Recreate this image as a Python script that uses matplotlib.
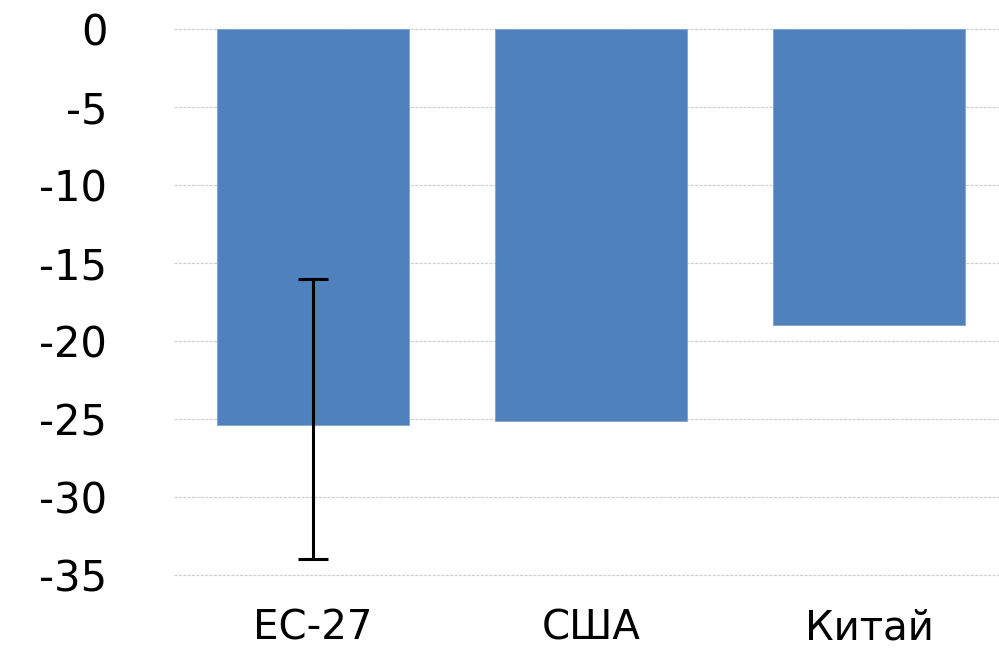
import matplotlib.pyplot as plt
import numpy as np

# Data
categories = ["ЕС-27", "США", "Китай"]
values = [-25.4, -25.1, -18.95]
err_low = [8.6, 0, 0]    # distance below the bar end
err_high = [9.4, 0, 0]   # distance above the bar end
yticks = np.arange(0, -36, -5)

fig = plt.figure(figsize=(9.99, 6.54), dpi=100)
ax = fig.add_axes([174 / 999, 1 - 575 / 654, (1008 - 174) / 999, (575 - 29) / 654])

x = np.arange(len(categories))
ax.bar(x, values, width=0.69, color="#4F81BD", edgecolor="#7FA3D0", linewidth=0.6, zorder=2)
ax.errorbar(x[:1], values[:1], yerr=[err_low[:1], err_high[:1]], fmt="none",
            ecolor="black", elinewidth=2.2, capsize=11, capthick=2.2, zorder=3)

ax.set_xlim(-0.5, 2.5)
ax.set_ylim(-35, 0)
ax.set_yticks(yticks)
ax.set_yticklabels([str(v) if v == 0 else "-" + str(-v) for v in yticks])
ax.set_xticks(x)
ax.set_xticklabels(categories)

ax.yaxis.grid(True, color="#d0d0d0", linestyle=(0, (2.5, 1)), linewidth=0.9, zorder=0)
for gl in ax.get_ygridlines():
    gl.set_clip_on(False)
ax.set_axisbelow(True)
for s in ax.spines.values():
    s.set_visible(False)
ax.tick_params(axis="y", length=0, pad=48, labelsize=30)
ax.tick_params(axis="x", length=0, pad=24, labelsize=29)
for lbl in ax.get_xticklabels() + ax.get_yticklabels():
    lbl.set_fontfamily("DejaVu Sans")

fig.savefig("out.png", dpi=100)
